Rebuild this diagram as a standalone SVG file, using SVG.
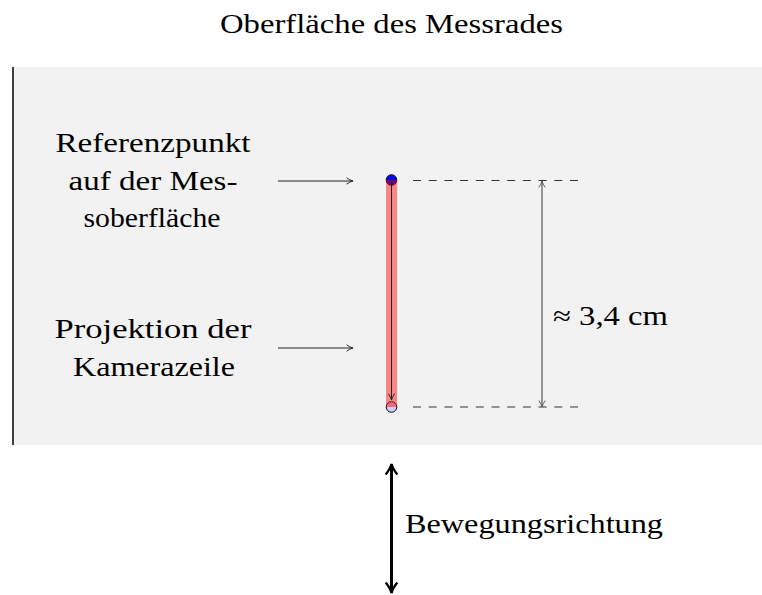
<svg xmlns="http://www.w3.org/2000/svg" width="762" height="595" viewBox="0 0 762 595">
  <style>
    text { font-family: "Liberation Serif", "Times New Roman", serif; fill: #000; }
    .lbl { font-size: 27px; text-anchor: middle; }
    .dash { stroke: #333; stroke-width: 1.2; stroke-dasharray: 8 7.7; fill: none; }
    .thin { stroke: #222; stroke-width: 1; fill: none; }
  </style>
  <defs>
    <marker id="tip" viewBox="0 0 10 10" refX="9" refY="5" markerWidth="8" markerHeight="8" markerUnits="userSpaceOnUse" orient="auto">
      <path d="M1,1 Q5,4 9,5 Q5,6 1,9" fill="none" stroke="#222" stroke-width="1.2"/>
    </marker>
    <marker id="tipGray" viewBox="0 0 10 10" refX="9" refY="5" markerWidth="8" markerHeight="8" markerUnits="userSpaceOnUse" orient="auto-start-reverse">
      <path d="M1,1 Q5,4 9,5 Q5,6 1,9" fill="none" stroke="#555" stroke-width="1.2"/>
    </marker>
    <marker id="tipBold" viewBox="0 0 12 12" refX="11" refY="6" markerWidth="14" markerHeight="14" markerUnits="userSpaceOnUse" orient="auto-start-reverse">
      <path d="M2,1 Q7,5 11,6 Q7,7 2,11" fill="none" stroke="#000" stroke-width="2"/>
    </marker>
  </defs>

  <!-- wheel surface -->
  <g id="surface">
    <rect x="13" y="67" width="749" height="378" fill="#f2f2f2"/>
    <line x1="13" y1="67" x2="13" y2="445" stroke="#000" stroke-width="1.5"/>
  </g>

  <g id="title">
    <text x="391.5" y="33" class="lbl" textLength="343" lengthAdjust="spacingAndGlyphs">Oberfläche des Messrades</text>
  </g>

  <g id="label-reference">
    <text x="153" y="152" class="lbl" textLength="195" lengthAdjust="spacingAndGlyphs">Referenzpunkt</text>
    <text x="153" y="190" class="lbl" textLength="169" lengthAdjust="spacingAndGlyphs">auf der Mes-</text>
    <text x="152" y="227" class="lbl" textLength="137" lengthAdjust="spacingAndGlyphs">soberfläche</text>
  </g>

  <g id="label-projection">
    <text x="153" y="338" class="lbl" textLength="197" lengthAdjust="spacingAndGlyphs">Projektion der</text>
    <text x="154" y="376" class="lbl" textLength="162" lengthAdjust="spacingAndGlyphs">Kamerazeile</text>
  </g>

  <!-- camera line projection -->
  <g id="camera-line">
    <circle cx="391.5" cy="180" r="5.3" fill="#0000ff" stroke="#111" stroke-width="1"/>
    <circle cx="391.5" cy="407" r="5.3" fill="#ccccff" stroke="#111" stroke-width="1"/>
    <rect x="386" y="180" width="11" height="227" fill="#ff0000" fill-opacity="0.45"/>
  </g>

  <g id="dimension">
    <text x="553" y="325" font-size="27" textLength="115" lengthAdjust="spacingAndGlyphs">≈ 3,4 cm</text>
  </g>

  <g id="direction">
    <text x="405" y="533" font-size="27" textLength="258" lengthAdjust="spacingAndGlyphs">Bewegungsrichtung</text>
  </g>

  <g id="connectors">
    <line x1="278" y1="181" x2="353" y2="181" class="thin" marker-end="url(#tip)"/>
    <line x1="278" y1="348" x2="353" y2="348" class="thin" marker-end="url(#tip)"/>
    <line x1="391.5" y1="182" x2="391.5" y2="400" class="thin" marker-end="url(#tip)"/>
    <line x1="413" y1="180.5" x2="582" y2="180.5" class="dash"/>
    <line x1="413" y1="407" x2="582" y2="407" class="dash"/>
    <line x1="542" y1="181" x2="542" y2="407" stroke="#555" stroke-width="1.2" marker-start="url(#tipGray)" marker-end="url(#tipGray)"/>
    <line x1="391.5" y1="464" x2="391.5" y2="593" stroke="#000" stroke-width="3" marker-start="url(#tipBold)" marker-end="url(#tipBold)"/>
  </g>
</svg>
